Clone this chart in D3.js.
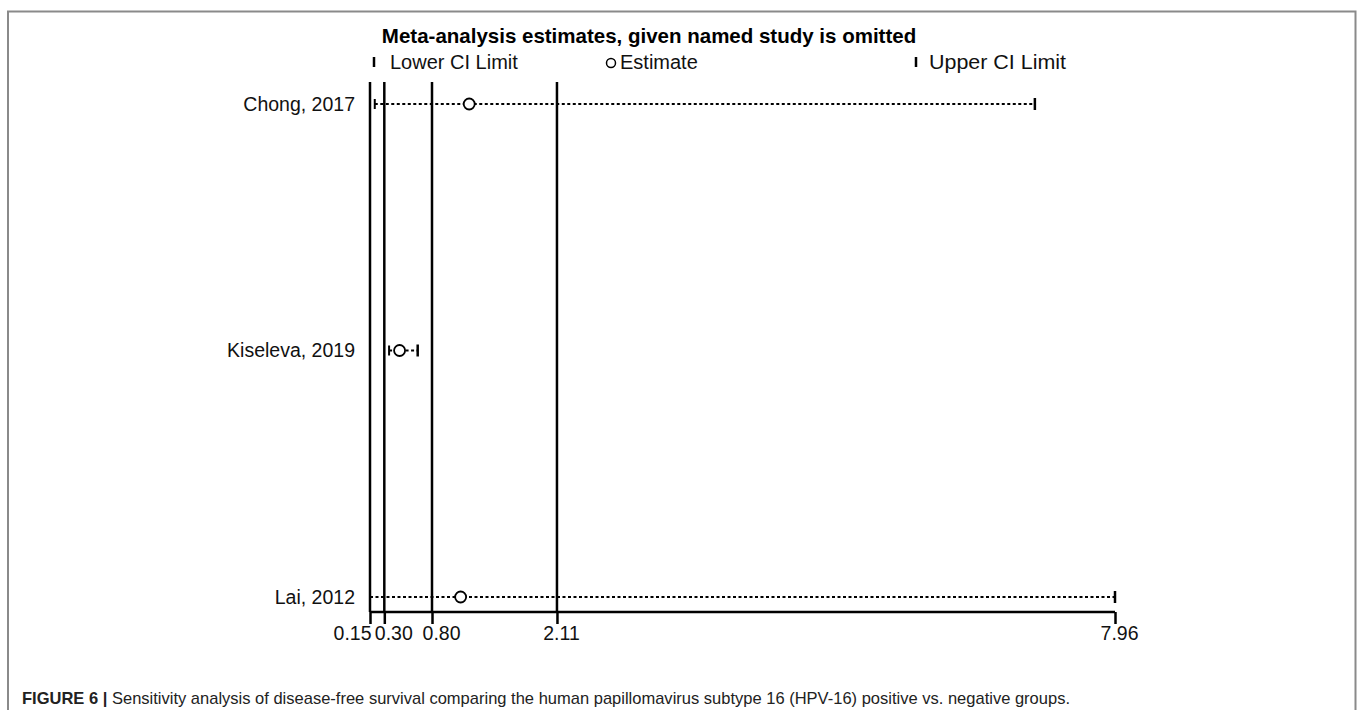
<!DOCTYPE html>
<html>
<head>
<meta charset="utf-8">
<script src="https://cdn.jsdelivr.net/npm/d3@7"></script>
<style>
  body { margin: 0; background: #fff; }
  svg { display: block; }
</style>
</head>
<body>
<div id="chart"></div>
<script>
// study omitted, and estimates when it is left out
const studies = ["Chong, 2017", "Kiseleva, 2019", "Lai, 2012"]
const lowerCI = [0.20, 0.35, 0.15]
const estimates = [1.19, 0.46, 1.10]
const upperCI = [7.12, 0.65, 7.96]
const tickValues = [0.15, 0.30, 0.80, 2.11, 7.96]
const refLines = [0.15, 0.30, 0.80, 2.11]

const width = 1358
const height = 710
const font = "Arial, 'Liberation Sans', sans-serif"

const svg = d3.select("#chart")
  .append("svg")
    .attr("width", width)
    .attr("height", height)

// figure frame
svg.append("path")
  .attr("d", "M8,720 V11.5 H1355.5 V720")
  .attr("fill", "none")
  .attr("stroke", "#8a8a8a")
  .attr("stroke-width", 2)

const xScale = d3.scaleLinear()
  .domain([0.15, 7.96])
  .range([370, 1115])

const yScale = d3.scalePoint()
  .domain(studies)
  .range([104, 597])

const plotTop = 82
const axisY = 612

// title + legend
svg.append("text")
  .attr("x", 649)
  .attr("y", 43)
  .attr("text-anchor", "middle")
  .style("font-family", font)
  .style("font-weight", "bold")
  .style("font-size", "20.5px")
  .text("Meta-analysis estimates, given named study is omitted")

const legend = svg.append("g")
  .style("font-family", font)
  .style("font-size", "20px")
  .attr("fill", "#111")

legend.append("line")
  .attr("x1", 374).attr("x2", 374).attr("y1", 57).attr("y2", 67)
  .attr("stroke", "#000").attr("stroke-width", 2.5)
legend.append("text").attr("x", 390).attr("y", 69).text("Lower CI Limit")

legend.append("circle")
  .attr("cx", 611).attr("cy", 63).attr("r", 4.5)
  .attr("fill", "none").attr("stroke", "#000").attr("stroke-width", 1.5)
legend.append("text").attr("x", 620).attr("y", 69).text("Estimate")

legend.append("line")
  .attr("x1", 916).attr("x2", 916).attr("y1", 57).attr("y2", 67)
  .attr("stroke", "#000").attr("stroke-width", 2.5)
legend.append("text").attr("x", 929).attr("y", 69)
  .attr("textLength", 137).attr("lengthAdjust", "spacingAndGlyphs")
  .text("Upper CI Limit")

// vertical reference lines
svg.append("g")
  .selectAll("line")
  .data(refLines)
  .join("line")
    .attr("x1", d => xScale(d))
    .attr("x2", d => xScale(d))
    .attr("y1", plotTop)
    .attr("y2", axisY)
    .attr("stroke", "#000")
    .attr("stroke-width", 2.5)

// x axis
const xAxis = svg.append("g")
  .attr("transform", `translate(0, ${axisY})`)
  .call(d3.axisBottom(xScale)
    .tickValues(tickValues)
    .tickFormat(d3.format(".2f"))
    .tickSize(12)
    .tickSizeOuter(0)
    .tickPadding(2))
xAxis.select(".domain").attr("stroke-width", 2.5).attr("d", `M${xScale(0.15)},0H${xScale(7.96)}`)
xAxis.selectAll(".tick line").attr("stroke-width", 2.5)
xAxis.selectAll(".tick text")
  .style("font-family", font)
  .style("font-size", "19.5px")
  .attr("fill", "#111")
  // labels sit a little right of their tick, the first one ends at it
  .attr("text-anchor", (d, i) => i === 0 ? "end" : "middle")
  .attr("dx", (d, i) => i === 0 ? 1 : (i < 3 ? 9 : 4))

// rows
const rows = svg.append("g")
  .selectAll("g")
  .data(studies)
  .join("g")
    .attr("transform", d => `translate(0, ${yScale(d)})`)

rows.append("text")
  .attr("x", 355)
  .attr("dy", "0.35em")
  .attr("text-anchor", "end")
  .style("font-family", font)
  .style("font-size", "19.5px")
  .attr("fill", "#111")
  .text(d => d)

rows.append("line")
  .attr("x1", (d, i) => xScale(lowerCI[i]))
  .attr("x2", (d, i) => xScale(upperCI[i]))
  .attr("stroke", "#000")
  .attr("stroke-width", 2)
  .attr("stroke-dasharray", "3,2.5")

rows.append("line")
  .attr("x1", (d, i) => xScale(lowerCI[i]))
  .attr("x2", (d, i) => xScale(lowerCI[i]))
  .attr("y1", -5).attr("y2", 5)
  .attr("stroke", "#000").attr("stroke-width", 2)

rows.append("line")
  .attr("x1", (d, i) => xScale(upperCI[i]))
  .attr("x2", (d, i) => xScale(upperCI[i]))
  .attr("y1", -6).attr("y2", 6)
  .attr("stroke", "#000").attr("stroke-width", 2.5)

rows.append("circle")
  .attr("cx", (d, i) => xScale(estimates[i]))
  .attr("r", 5.5)
  .attr("fill", "#fff")
  .attr("stroke", "#000")
  .attr("stroke-width", 1.8)

// caption, set in a condensed face in the source
const caption = svg.append("text")
  .attr("x", 22)
  .attr("y", 704)
  .style("font-family", font)
  .style("font-size", "17px")
  .attr("fill", "#222")
  .attr("textLength", 1048)
  .attr("lengthAdjust", "spacingAndGlyphs")
caption.append("tspan").style("font-weight", "bold").text("FIGURE 6 | ")
caption.append("tspan").text("Sensitivity analysis of disease-free survival comparing the human papillomavirus subtype 16 (HPV-16) positive vs. negative groups.")
</script>
</body>
</html>
